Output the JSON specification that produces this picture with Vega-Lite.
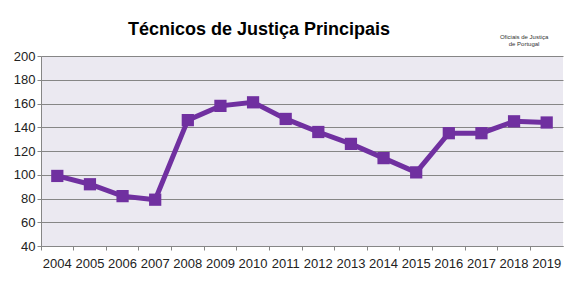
{
  "$schema": "https://vega.github.io/schema/vega-lite/v6.json",
  "width": 522,
  "height": 190,
  "autosize": {"type": "none"},
  "padding": {"left": 41, "top": 56, "right": 19, "bottom": 46},
  "background": "white",
  "title": {
    "text": "Técnicos de Justiça Principais",
    "font": "Liberation Sans",
    "fontSize": 18,
    "fontWeight": "bold",
    "color": "#000000",
    "anchor": "middle",
    "dx": -43,
    "offset": -5
  },
  "data": {
    "values": [
      {"year": "2004", "value": 99},
      {"year": "2005", "value": 92},
      {"year": "2006", "value": 82},
      {"year": "2007", "value": 79},
      {"year": "2008", "value": 146},
      {"year": "2009", "value": 158},
      {"year": "2010", "value": 161},
      {"year": "2011", "value": 147},
      {"year": "2012", "value": 136},
      {"year": "2013", "value": 126},
      {"year": "2014", "value": 114},
      {"year": "2015", "value": 102},
      {"year": "2016", "value": 135},
      {"year": "2017", "value": 135},
      {"year": "2018", "value": 145},
      {"year": "2019", "value": 144}
    ]
  },
  "layer": [
    {
      "mark": {
        "type": "line",
        "color": "#7030A0",
        "strokeWidth": 5,
        "point": {"shape": "square", "size": 150, "filled": true, "color": "#7030A0", "opacity": 1}
      },
      "encoding": {
        "x": {
          "field": "year",
          "type": "ordinal",
          "scale": {"type": "band", "paddingInner": 0, "paddingOuter": 0},
          "axis": {
            "title": null,
            "labelAngle": 0,
            "bandPosition": 0,
            "grid": false,
            "domainColor": "#868686",
            "tickColor": "#868686",
            "tickSize": 4,
            "labelPadding": 7,
            "labelFont": "Liberation Sans",
            "labelFontSize": 13,
            "labelColor": "#222222"
          }
        },
        "y": {
          "field": "value",
          "type": "quantitative",
          "scale": {"domain": [40, 200], "nice": false, "zero": false},
          "axis": {
            "title": null,
            "values": [40, 60, 80, 100, 120, 140, 160, 180, 200],
            "labelOverlap": false,
            "grid": true,
            "gridColor": "#868686",
            "gridWidth": 1,
            "domainColor": "#868686",
            "tickColor": "#868686",
            "tickSize": 4,
            "labelPadding": 2,
            "labelFont": "Liberation Sans",
            "labelFontSize": 13,
            "labelColor": "#222222"
          }
        }
      }
    },
    {
      "data": {"values": [{"t": "Oficiais de Justiça\nde Portugal"}]},
      "mark": {
        "type": "text",
        "font": "Liberation Sans",
        "fontSize": 6,
        "lineHeight": 7,
        "lineBreak": "\n",
        "color": "#333333",
        "align": "center",
        "baseline": "middle",
        "dx": 10
      },
      "encoding": {
        "x": {
          "datum": "2018",
          "type": "ordinal",
          "axis": {
            "title": null,
            "labelAngle": 0,
            "bandPosition": 0,
            "grid": false,
            "domainColor": "#868686",
            "tickColor": "#868686",
            "tickSize": 4,
            "labelPadding": 7,
            "labelFont": "Liberation Sans",
            "labelFontSize": 13,
            "labelColor": "#222222"
          }
        },
        "y": {
          "datum": 216,
          "type": "quantitative",
          "axis": {
            "title": null,
            "values": [40, 60, 80, 100, 120, 140, 160, 180, 200],
            "labelOverlap": false,
            "grid": true,
            "gridColor": "#868686",
            "gridWidth": 1,
            "domainColor": "#868686",
            "tickColor": "#868686",
            "tickSize": 4,
            "labelPadding": 2,
            "labelFont": "Liberation Sans",
            "labelFontSize": 13,
            "labelColor": "#222222"
          }
        },
        "text": {"field": "t"}
      }
    }
  ],
  "config": {
    "view": {"fill": "#EBE9F1", "stroke": null}
  }
}
